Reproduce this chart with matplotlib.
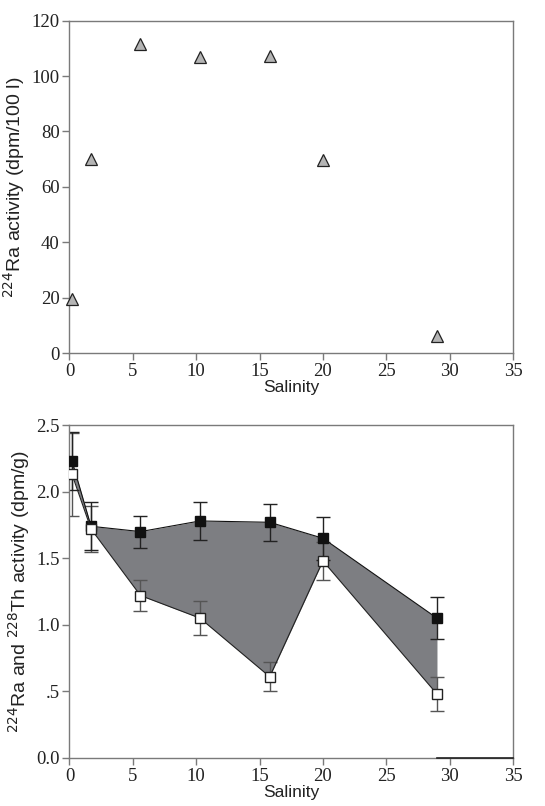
import matplotlib
matplotlib.use("Agg")
import matplotlib.pyplot as plt

# top panel: 224Ra in water
sal_w = [0.2, 1.7, 5.6, 10.3, 15.8, 20.0, 29.0]
ra_w = [19.5, 70.0, 111.5, 107.0, 107.3, 69.8, 6.0]

# bottom panel: sediment activities
sal_s = [0.2, 1.7, 5.6, 10.3, 15.8, 20.0, 29.0]
ra_s = [2.23, 1.74, 1.70, 1.78, 1.77, 1.65, 1.05]
ra_err = [0.22, 0.18, 0.12, 0.14, 0.14, 0.16, 0.16]
th_s = [2.13, 1.72, 1.22, 1.05, 0.61, 1.48, 0.48]
th_err = [0.31, 0.17, 0.12, 0.13, 0.11, 0.14, 0.13]

xticks = [0, 5, 10, 15, 20, 25, 30, 35]
yticks_top = [0, 20, 40, 60, 80, 100, 120]
yticks_bot = [0.0, 0.5, 1.0, 1.5, 2.0, 2.5]
ylabels_bot = ["0.0", ".5", "1.0", "1.5", "2.0", "2.5"]

spine_c = "#7a7a7a"
serif = ["Liberation Serif", "DejaVu Serif"]
sans = ["Liberation Sans", "DejaVu Sans"]

fig = plt.figure(figsize=(5.45, 8.06), dpi=100)
ax1 = fig.add_axes([0.1275, 0.562, 0.8138, 0.4123])
ax2 = fig.add_axes([0.1275, 0.0596, 0.8138, 0.413])


def style(ax):
    for s in ax.spines.values():
        s.set_color(spine_c)
        s.set_linewidth(1.0)
    ax.tick_params(direction="out", color=spine_c, length=5, width=1.0,
                   labelsize=13.5, pad=2, top=False, right=False,
                   labelcolor="#222222")
    ax.set_xlim(0, 35)
    ax.set_xticks(xticks)
    ax.set_xticklabels([str(t) for t in xticks], fontfamily=serif)
    ax.set_xlabel("Salinity", fontfamily=sans, fontsize=12.5, labelpad=0,
                  color="#222222")


ax1.plot(sal_w, ra_w, linestyle="none", marker="^", markersize=8,
         markerfacecolor="#b4b4b4", markeredgecolor="#222222", markeredgewidth=0.9,
         clip_on=False, zorder=3)
ax1.set_ylim(0, 120)
ax1.set_yticks(yticks_top)
ax1.set_yticklabels([str(t) for t in yticks_top], fontfamily=serif)
style(ax1)
ax1.set_ylabel(r"$^{224}$Ra activity (dpm/100 l)", fontfamily=sans, fontsize=14,
               labelpad=3, color="#222222")

ax2.fill_between(sal_s, ra_s, th_s, color="#7d7e82", linewidth=0, zorder=1)
ax2.errorbar(sal_s, th_s, yerr=th_err, fmt="none", ecolor="#555555",
             elinewidth=1.0, capsize=5, capthick=1.0, zorder=2)
ax2.errorbar(sal_s, ra_s, yerr=ra_err, fmt="none", ecolor="#222222",
             elinewidth=1.0, capsize=5, capthick=1.0, zorder=2)
ax2.plot(sal_s, ra_s, color="#111111", linewidth=0.8, marker="s", markersize=7,
         markerfacecolor="#111111", markeredgecolor="#111111", zorder=4)
ax2.plot(sal_s, th_s, color="#222222", linewidth=0.8, marker="s", markersize=7,
         markerfacecolor="white", markeredgecolor="#222222", zorder=4)
ax2.plot([29, 35], [0, 0], color="#222222", linewidth=1.2, clip_on=False, zorder=5)
ax2.set_ylim(0, 2.5)
ax2.set_yticks(yticks_bot)
ax2.set_yticklabels(ylabels_bot, fontfamily=serif)
style(ax2)
ax2.set_ylabel(r"$^{224}$Ra and $^{228}$Th activity (dpm/g)", fontfamily=sans,
               fontsize=14, labelpad=3, color="#222222")

fig.savefig("out.png", dpi=100)
